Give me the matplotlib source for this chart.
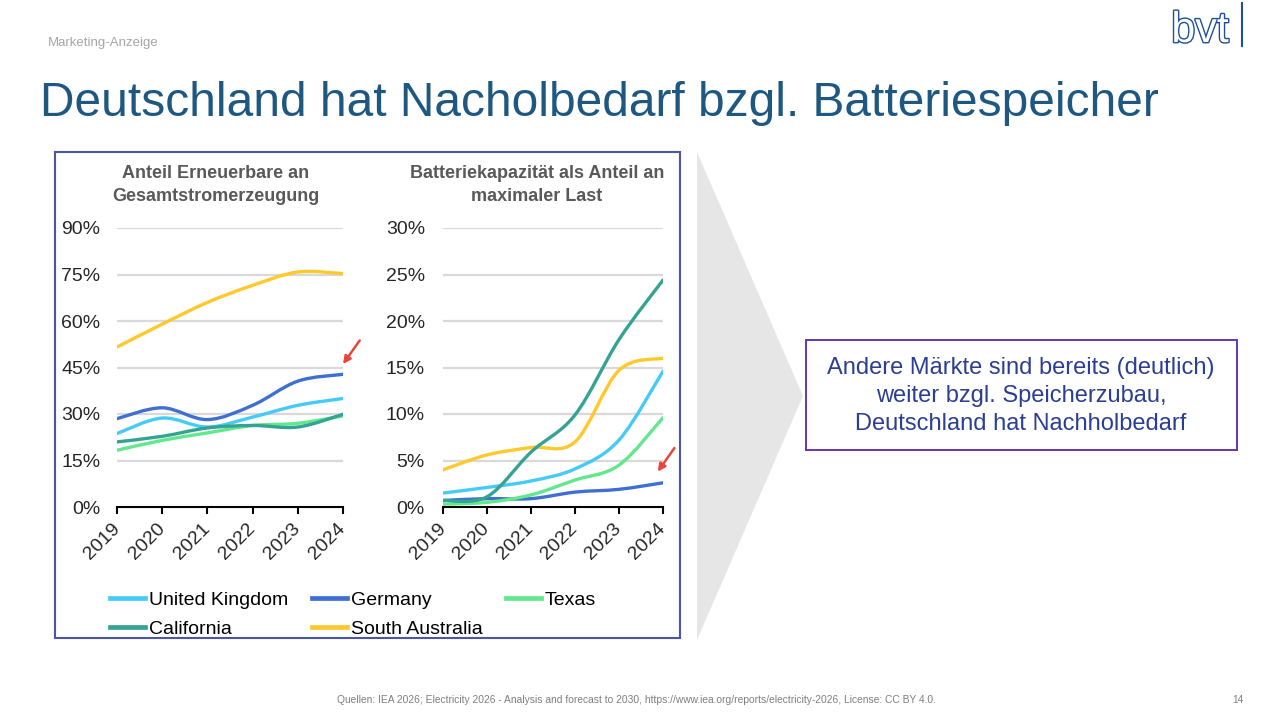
import numpy as np
import matplotlib.pyplot as plt
from matplotlib.path import Path
from matplotlib.patches import PathPatch, Rectangle, Polygon
from matplotlib.lines import Line2D
import matplotlib.patheffects as pe

plt.rcParams['font.family'] = ['Liberation Sans', 'DejaVu Sans']

# data
years = [2019, 2020, 2021, 2022, 2023, 2024]
series_names = ['United Kingdom', 'Germany', 'Texas', 'California', 'South Australia']
colors = ['#45CBF7', '#3E6FD1', '#62E88C', '#34A394', '#FFC92B']

# Anteil Erneuerbare an Gesamtstromerzeugung (%)
res_uk = [23.7, 28.7, 25.8, 29.0, 32.8, 35.0]
res_de = [28.5, 32.0, 28.2, 32.8, 40.6, 42.8]
res_tx = [18.3, 21.5, 23.9, 26.3, 27.0, 29.4]
res_ca = [21.0, 22.8, 25.5, 26.3, 25.8, 29.9]
res_sa = [51.6, 59.0, 66.0, 71.5, 75.8, 75.3]

# Batteriekapazitaet als Anteil an maximaler Last (%)
bat_uk = [1.5, 2.1, 2.8, 4.1, 7.2, 14.6]
bat_de = [0.7, 0.9, 0.9, 1.6, 1.9, 2.6]
bat_tx = [0.3, 0.5, 1.3, 2.9, 4.5, 9.6]
bat_ca = [0.7, 1.1, 5.9, 9.9, 18.0, 24.4]
bat_sa = [4.0, 5.6, 6.4, 7.0, 14.7, 16.0]

left_ticks = [0, 15, 30, 45, 60, 75, 90]
right_ticks = [0, 5, 10, 15, 20, 25, 30]

W, H = 1280, 720


def fx(px):
    return px / W


def fy(py):
    return 1 - py / H


def smooth_line(ax, xs, ys, color, lw=2.4):
    # excel-style smoothed line: cubic bezier segments through the points
    x = np.asarray(xs, float)
    y = np.asarray(ys, float)
    n = len(x)
    verts = [(x[0], y[0])]
    codes = [Path.MOVETO]
    for i in range(n - 1):
        p0 = np.array([x[max(i - 1, 0)], y[max(i - 1, 0)]])
        p1 = np.array([x[i], y[i]])
        p2 = np.array([x[i + 1], y[i + 1]])
        p3 = np.array([x[min(i + 2, n - 1)], y[min(i + 2, n - 1)]])
        c1 = p1 + (p2 - p0) / 6
        c2 = p2 - (p3 - p1) / 6
        verts += [tuple(c1), tuple(c2), tuple(p2)]
        codes += [Path.CURVE4] * 3
    patch = PathPatch(Path(verts, codes), fill=False, edgecolor=color, lw=lw,
                      capstyle='round', joinstyle='round', zorder=3)
    ax.add_patch(patch)


def style_axes(ax, ticks, pad):
    ax.set_xlim(2019, 2024)
    ax.set_ylim(ticks[0], ticks[-1])
    ax.set_yticks(ticks)
    ax.set_yticklabels([f'{t}%' for t in ticks])
    ax.set_xticks(years)
    ax.set_xticklabels([str(y) for y in years], rotation=45, ha='right',
                       va='center', rotation_mode='anchor')
    for s in ['top', 'right', 'left']:
        ax.spines[s].set_visible(False)
    ax.spines['bottom'].set_color('black')
    ax.spines['bottom'].set_linewidth(1.5)
    ax.tick_params(axis='y', length=0, pad=pad, labelsize=14, labelcolor='#262626')
    ax.tick_params(axis='x', length=5, width=1.5, direction='out', pad=9,
                   labelsize=14, labelcolor='#262626')
    for t in ticks[1:]:
        ax.axhline(t, color='#D9D9D9', lw=1.6, zorder=1)
    ax.set_facecolor('none')


fig = plt.figure(figsize=(12.8, 7.2), dpi=100)
fig.patch.set_facecolor('white')

# header
fig.text(fx(48), fy(43), 'Marketing-Anzeige', fontsize=9.5, color='#A6A6A6',
         ha='left', va='center')
fig.text(fx(40), fy(103), 'Deutschland hat Nacholbedarf bzgl. Batteriespeicher',
         fontsize=34.5, color='#1E5880', ha='left', va='center')
fig.text(fx(1200), fy(31), 'bvt', fontsize=31, color='white', ha='center',
         va='center', path_effects=[pe.Stroke(linewidth=2.0, foreground='#1F4E9A'), pe.Normal()])
fig.add_artist(Line2D([fx(1242), fx(1242)], [fy(3), fy(46)], color='#1F4E9A', lw=1.5))

# chart frame
fig.add_artist(Rectangle((fx(55), fy(638)), fx(680) - fx(55), fy(152) - fy(638),
                         fill=False, edgecolor='#4B57A6', lw=1.5))

# grey chevron
fig.add_artist(Polygon([(fx(697), fy(152)), (fx(803), fy(396)), (fx(697), fy(640))],
                       closed=True, facecolor='#E6E6E6', edgecolor='none'))

# subtitles
fig.text(fx(216), fy(185), 'Anteil Erneuerbare an\nGesamtstromerzeugung', fontsize=13,
         fontweight='bold', color='#595959', ha='center', va='center', linespacing=1.42)
fig.text(fx(537), fy(185), 'Batteriekapazität als Anteil an\nmaximaler Last', fontsize=13,
         fontweight='bold', color='#595959', ha='center', va='center', linespacing=1.42)

ax1 = fig.add_axes([fx(117), fy(507), fx(343) - fx(117), fy(228) - fy(507)])
ax2 = fig.add_axes([fx(443), fy(507), fx(663) - fx(443), fy(228) - fy(507)])

style_axes(ax1, left_ticks, 12)
style_axes(ax2, right_ticks, 13)

res = [res_uk, res_de, res_tx, res_ca, res_sa]
bat = [bat_uk, bat_de, bat_tx, bat_ca, bat_sa]
for i in [4, 0, 2, 3, 1]:
    smooth_line(ax1, years, res[i], colors[i])
for i in [1, 2, 0, 4, 3]:
    smooth_line(ax2, years, bat[i], colors[i])

# red arrows pointing at Germany
ax1.annotate('', xy=(2024, res_de[-1] + 3.3), xytext=(12, 17), textcoords='offset points',
             arrowprops=dict(arrowstyle='-|>', color='#E8463A', lw=1.8, mutation_scale=11,
                             shrinkA=0, shrinkB=0),
             annotation_clip=False)
ax2.annotate('', xy=(2023.88, bat_de[-1] + 1.2), xytext=(12, 17), textcoords='offset points',
             arrowprops=dict(arrowstyle='-|>', color='#E8463A', lw=1.8, mutation_scale=11,
                             shrinkA=0, shrinkB=0),
             annotation_clip=False)

# legend
order = [0, 3, 1, 4, 2]
handles = [Line2D([], [], color=colors[i], lw=3.4) for i in order]
labels = [series_names[i] for i in order]
fig.legend(handles, labels, loc='upper left', bbox_to_anchor=(fx(110), fy(591)),
           ncol=3, frameon=False, fontsize=14, handlelength=1.8, handletextpad=0.2,
           columnspacing=1.22, labelspacing=0.6, borderpad=0, borderaxespad=0)

# text box
fig.add_artist(Rectangle((fx(806), fy(450)), fx(1237) - fx(806), fy(340) - fy(450),
                         fill=False, edgecolor='#6434B8', lw=1.4))
fig.text(fx(1021), fy(396), 'Andere Märkte sind bereits (deutlich)\nweiter bzgl. Speicherzubau,\n'
         'Deutschland hat Nachholbedarf', fontsize=17, color='#2B3E93', ha='center',
         va='center', linespacing=1.37)

# footer
fig.text(fx(636), fy(700), 'Quellen: IEA 2026; Electricity 2026 - Analysis and forecast to 2030, '
         'https://www.iea.org/reports/electricity-2026, License: CC BY 4.0.',
         fontsize=7.4, color='#7F7F7F', ha='center', va='center')
fig.text(fx(1238), fy(700), '14', fontsize=7.4, color='#7F7F7F', ha='center', va='center')

fig.savefig('out.png', dpi=100)
